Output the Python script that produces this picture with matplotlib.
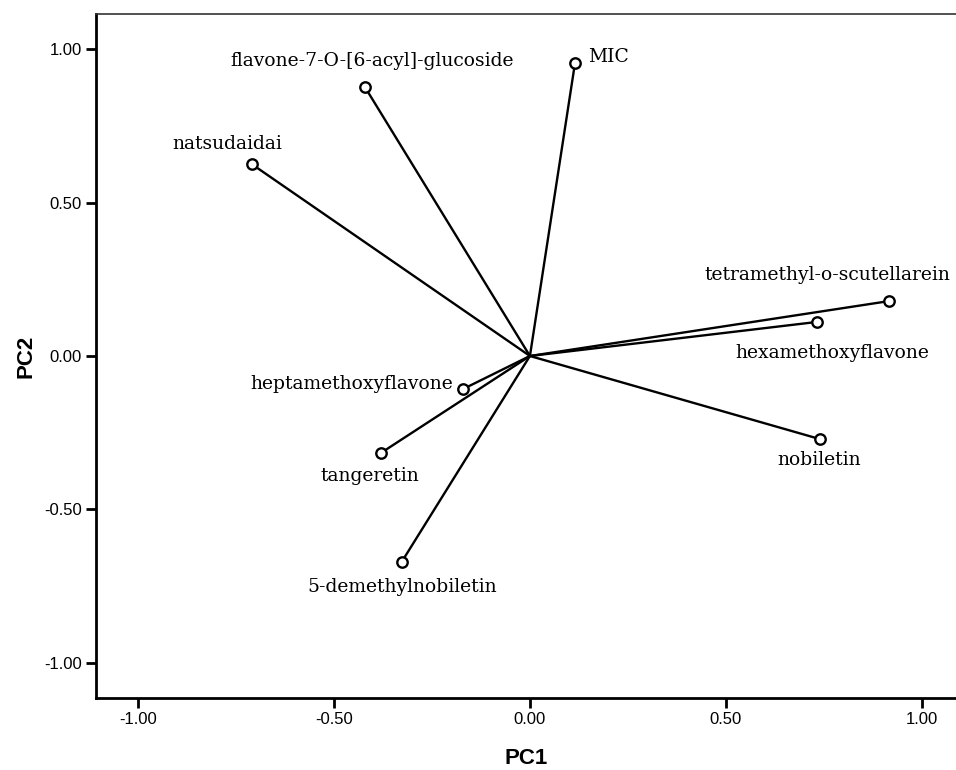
import matplotlib
matplotlib.use("Agg")
import matplotlib.pyplot as plt

names = ["MIC", "flavone-7-O-[6-acyl]-glucoside", "natsudaidai",
         "tetramethyl-o-scutellarein", "hexamethoxyflavone", "nobiletin",
         "heptamethoxyflavone", "tangeretin", "5-demethylnobiletin"]
pc1 = [0.115, -0.421, -0.709, 0.916, 0.732, 0.740, -0.171, -0.380, -0.327]
pc2 = [0.955, 0.877, 0.625, 0.179, 0.111, -0.271, -0.108, -0.316, -0.671]
xticks = [-1.0, -0.5, 0.0, 0.5, 1.0]
yticks = [-1.0, -0.5, 0.0, 0.5, 1.0]

# label placement (offset pixels, alignment)
offsets = [(13, 6, "left"), (7, 26, "center"), (-25, 20, "center"),
           (61, 26, "right"), (15, -31, "center"), (-1, -21, "center"),
           (-10, 5, "right"), (-11, -23, "center"), (0, -25, "center")]

fig = plt.figure(figsize=(9.56, 7.70), dpi=100)
ax = fig.add_axes([96/956, 1 - 698/770, 1 - 96/956, (698 - 14)/770])

for x, y in zip(pc1, pc2):
    ax.plot([0, x], [0, y], color="black", lw=1.7, solid_capstyle="round")
ax.plot(pc1, pc2, linestyle="none", marker="o", markersize=7.5,
        markerfacecolor="white", markeredgecolor="black", markeredgewidth=1.7,
        zorder=3)

for n, x, y, (dx, dy, ha) in zip(names, pc1, pc2, offsets):
    ax.annotate(n, (x, y), xytext=(dx, dy), textcoords="offset pixels",
                ha=ha, va="center", fontsize=13.5, family="DejaVu Serif")

ax.set_xlim(-1.107, 1.087)
ax.set_ylim(-1.115, 1.115)
ax.set_xticks(xticks)
ax.set_yticks(yticks)
ax.set_xticklabels([f"{t:.2f}" for t in xticks], family="Liberation Sans", fontsize=12)
ax.set_yticklabels([f"{t:.2f}" for t in yticks], family="Liberation Sans", fontsize=12)
ax.tick_params(direction="out", length=7, width=2, pad=3)
ax.spines["right"].set_visible(False)
ax.spines["left"].set_linewidth(2)
ax.spines["bottom"].set_linewidth(2)
ax.spines["top"].set_linewidth(1.2)
ax.spines["top"].set_color("#333333")

ax.set_xlabel("PC1", family="Liberation Sans", fontsize=16, fontweight="bold", labelpad=15)
ax.set_ylabel("PC2", family="Liberation Sans", fontsize=16, fontweight="bold", labelpad=6)

fig.savefig("out.png", dpi=100)
